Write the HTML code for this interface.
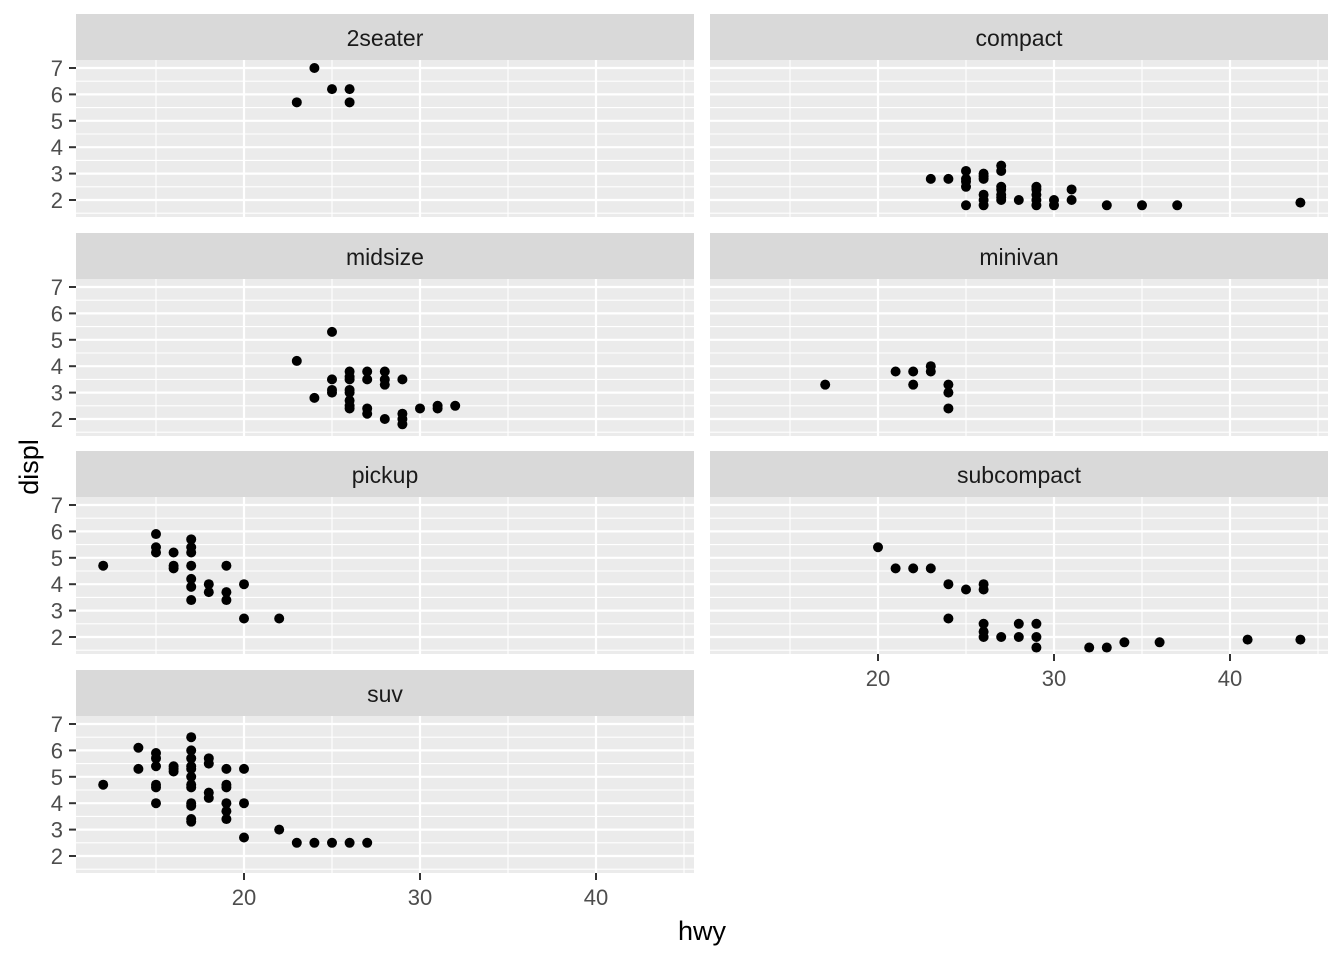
<!DOCTYPE html>
<html><head><meta charset="utf-8"><style>
html,body{margin:0;padding:0;background:#fff}
svg{display:block}
text{font-family:"Liberation Sans",Arial,sans-serif}
</style></head><body>
<svg id="s" width="1344" height="960" xmlns="http://www.w3.org/2000/svg"></svg>
<script>
const D={
"2seater":[[23,5.7],[24,7.0],[25,6.2],[26,6.2],[26,5.7]],
"compact":[[23,2.8],[24,2.8],[25,1.8],[25,2.5],[25,2.8],[25,3.1],[25,2.7],[26,1.8],[26,2.0],[26,2.2],[26,2.8],[26,3.0],[26,2.9],[27,2.0],[27,2.2],[27,2.4],[27,2.5],[27,3.1],[27,3.3],[27,2.1],[28,2.0],[29,1.8],[29,2.0],[29,2.2],[29,2.4],[29,2.5],[30,1.8],[30,2.0],[31,2.0],[31,2.4],[33,1.8],[35,1.8],[37,1.8],[44,1.9]],
"midsize":[[23,4.2],[24,2.8],[25,5.3],[25,3.5],[25,3.1],[25,3.0],[26,3.8],[26,3.6],[26,3.5],[26,3.1],[26,3.0],[26,2.7],[26,2.5],[26,2.4],[27,3.8],[27,3.5],[27,2.4],[27,2.2],[28,3.8],[28,3.5],[28,3.3],[28,2.0],[29,3.5],[29,2.2],[29,2.0],[29,1.8],[30,2.4],[31,2.5],[31,2.4],[32,2.5]],
"minivan":[[17,3.3],[21,3.8],[22,3.8],[22,3.3],[23,4.0],[23,3.8],[24,3.3],[24,3.0],[24,2.4]],
"pickup":[[12,4.7],[15,5.9],[15,5.4],[15,5.2],[16,5.2],[16,4.7],[16,4.6],[17,5.7],[17,5.4],[17,5.2],[17,4.7],[17,4.2],[17,3.9],[17,3.4],[18,4.0],[18,3.7],[19,4.7],[19,3.7],[19,3.4],[20,4.0],[20,2.7],[22,2.7]],
"subcompact":[[20,5.4],[21,4.6],[22,4.6],[23,4.6],[24,4.0],[24,2.7],[25,3.8],[26,4.0],[26,3.8],[26,2.5],[26,2.2],[26,2.0],[27,2.0],[28,2.5],[28,2.0],[29,2.5],[29,2.0],[29,1.6],[32,1.6],[33,1.6],[34,1.8],[36,1.8],[41,1.9],[44,1.9]],
"suv":[[12,4.7],[14,6.1],[14,5.3],[15,5.9],[15,5.7],[15,5.4],[15,4.7],[15,4.6],[15,4.0],[16,5.4],[16,5.3],[16,5.2],[17,6.5],[17,6.0],[17,5.7],[17,5.4],[17,5.3],[17,5.0],[17,4.7],[17,4.6],[17,4.0],[17,3.9],[17,3.4],[17,3.3],[18,5.7],[18,5.5],[18,4.4],[18,4.2],[19,5.3],[19,4.7],[19,4.6],[19,4.0],[19,3.7],[19,3.4],[20,5.3],[20,4.0],[20,2.7],[22,3.0],[23,2.5],[24,2.5],[25,2.5],[26,2.5],[27,2.5]]};
const names=Object.keys(D);
let h='';
const cols=[76,710],W=618,tops=[14,233,451,670];
names.forEach((n,i)=>{
 const L=cols[i%2],T=tops[Math.floor(i/2)],P=T+46,B=P+157;
 const xs=v=>L+168+(v-20)*17.6, ys=v=>P+8+(7-v)*26.4;
 h+=`<rect x="${L}" y="${T}" width="${W}" height="46" fill="#d9d9d9"/>`;
 h+=`<text x="${L+W/2}" y="${T+32}" font-size="23" fill="#1a1a1a" text-anchor="middle">${n}</text>`;
 h+=`<rect x="${L}" y="${P}" width="${W}" height="157" fill="#ebebeb"/>`;
 for(let v=1.5;v<7.4;v+=1)h+=`<line x1="${L}" x2="${L+W}" y1="${ys(v)}" y2="${ys(v)}" stroke="#fff" stroke-width="1.1"/>`;
 for(let v=15;v<=45;v+=10)h+=`<line y1="${P}" y2="${B}" x1="${xs(v)}" x2="${xs(v)}" stroke="#fff" stroke-width="1.1"/>`;
 for(let v=2;v<=7;v++)h+=`<line x1="${L}" x2="${L+W}" y1="${ys(v)}" y2="${ys(v)}" stroke="#fff" stroke-width="2.2"/>`;
 for(let v=20;v<=40;v+=10)h+=`<line y1="${P}" y2="${B}" x1="${xs(v)}" x2="${xs(v)}" stroke="#fff" stroke-width="2.2"/>`;
 if(i%2==0){for(let v=2;v<=7;v++){h+=`<line x1="${L-7}" x2="${L}" y1="${ys(v)}" y2="${ys(v)}" stroke="#333" stroke-width="2"/>`;
  h+=`<text x="${L-13}" y="${ys(v)+8}" font-size="22" fill="#4d4d4d" text-anchor="end">${v}</text>`;}}
 if(n=="subcompact"||n=="suv"){for(let v=20;v<=40;v+=10){h+=`<line y1="${B}" y2="${B+7}" x1="${xs(v)}" x2="${xs(v)}" stroke="#333" stroke-width="2"/>`;
  h+=`<text x="${xs(v)}" y="${B+32}" font-size="22" fill="#4d4d4d" text-anchor="middle">${v}</text>`;}}
 D[n].forEach(p=>h+=`<circle cx="${xs(p[0])}" cy="${ys(p[1])}" r="5" fill="#000"/>`);
});
h+=`<text x="702" y="940" font-size="27" fill="#000" text-anchor="middle">hwy</text>`;
h+=`<text transform="translate(38,467) rotate(-90)" font-size="27" fill="#000" text-anchor="middle">displ</text>`;
document.getElementById('s').innerHTML=h;
</script>
</body></html>
